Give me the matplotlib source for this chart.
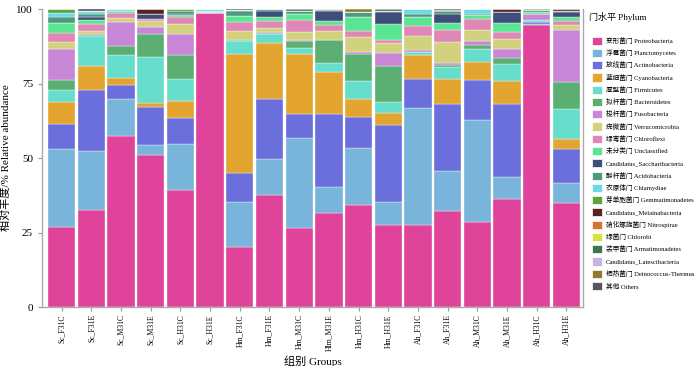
import matplotlib
matplotlib.use('Agg')
import matplotlib.pyplot as plt
from matplotlib.patches import Patch

plt.rcParams['font.family'] = ['Liberation Serif', 'Noto Sans CJK SC']

groups = ['Sc_F31C', 'Sc_F31E', 'Sc_M31C', 'Sc_M31E', 'Sc_H31C', 'Sc_H31E',
          'Hm_F31C', 'Hm_F31E', 'Hm_M31C', 'Hlm_M31E', 'Hm_H31C', 'Hm_H31E',
          'Ah_F31C', 'Ah_F31E', 'Ah_M31C', 'Ah_M31E', 'Ah_H31C', 'Ah_H31E']

# relative abundance (%) of each phylum, one value per group
proteobacteria = [27.0, 32.5, 57.5, 51.0, 39.3, 98.7, 20.0, 37.6, 26.6, 31.6, 34.2, 27.5, 27.5, 32.1, 28.5, 36.2, 94.6, 35.0]
planctomycetes = [26.0, 19.8, 12.3, 3.4, 15.6, 0.0, 15.3, 12.0, 30.2, 8.8, 19.3, 7.8, 39.4, 13.6, 34.3, 7.3, 0.4, 6.5]
actinobacteria = [8.4, 20.5, 4.7, 12.6, 8.4, 0.0, 9.6, 20.1, 7.9, 24.5, 10.4, 25.8, 9.8, 22.4, 13.4, 24.6, 0.8, 11.4]
cyanobacteria = [7.5, 8.2, 2.3, 1.6, 5.9, 0.0, 40.2, 18.8, 20.1, 14.1, 5.9, 4.1, 7.9, 8.4, 6.1, 7.7, 0.0, 3.4]
firmicutes = [4.1, 10.0, 7.8, 15.4, 7.3, 0.2, 4.2, 3.3, 2.0, 3.0, 6.0, 3.7, 1.1, 4.1, 4.3, 5.7, 0.5, 10.1]
bacteroidetes = [3.2, 0.2, 3.1, 7.6, 8.1, 0.0, 0.3, 0.3, 2.6, 7.6, 9.3, 12.0, 0.0, 0.5, 1.3, 2.2, 0.0, 9.0]
fusobacteria = [10.4, 0.5, 8.0, 2.3, 7.2, 0.0, 0.0, 0.2, 0.2, 0.0, 0.6, 4.4, 0.5, 0.8, 1.4, 2.9, 2.2, 17.5]
verrucomicrobia = [2.4, 1.0, 1.2, 2.2, 3.2, 0.0, 3.0, 1.5, 2.7, 3.0, 4.9, 3.4, 4.8, 7.1, 3.6, 3.3, 0.0, 1.7]
chloroflexi = [3.0, 2.4, 1.7, 0.5, 2.4, 0.0, 3.1, 2.3, 4.2, 2.0, 2.0, 0.9, 3.3, 3.9, 3.7, 2.5, 0.0, 1.4]
unclassified = [3.2, 1.1, 0.8, 0.0, 0.6, 0.5, 2.0, 1.3, 2.0, 1.3, 4.8, 5.4, 3.1, 2.5, 1.4, 3.1, 0.6, 1.5]
saccharibacteria = [0.0, 1.1, 0.0, 1.9, 0.4, 0.0, 0.0, 2.0, 0.0, 3.4, 0.0, 3.9, 0.0, 3.0, 0.0, 3.4, 0.0, 1.4]
acidobacteria = [2.2, 1.1, 0.0, 0.0, 1.1, 0.0, 1.6, 0.5, 1.0, 0.5, 1.7, 0.6, 1.1, 0.9, 0.5, 0.0, 0.5, 0.5]
chlamydiae = [1.4, 1.1, 0.5, 0.0, 0.0, 0.6, 0.5, 0.0, 0.0, 0.0, 0.0, 0.0, 1.4, 0.0, 1.4, 0.0, 0.0, 0.0]
gemmatimonadetes = [1.1, 0.0, 0.0, 0.0, 0.5, 0.0, 0.0, 0.0, 0.0, 0.2, 0.0, 0.0, 0.0, 0.0, 0.0, 0.0, 0.0, 0.0]
melainabacteria = [0.0, 0.0, 0.0, 1.5, 0.0, 0.0, 0.0, 0.0, 0.0, 0.0, 0.0, 0.0, 0.0, 0.5, 0.0, 1.1, 0.0, 0.6]
nitrospirae = [0.0] * 18
chlorobi = [0.0] * 18
armatimonadetes = [0.0, 0.0, 0.0, 0.0, 0.0, 0.0, 0.0, 0.0, 0.5, 0.0, 0.0, 0.5, 0.0, 0.0, 0.0, 0.0, 0.3, 0.0]
latescibacteria = [0.0] * 18
deinococcus = [0.0, 0.0, 0.0, 0.0, 0.0, 0.0, 0.0, 0.0, 0.0, 0.0, 0.9, 0.0, 0.0, 0.0, 0.0, 0.0, 0.0, 0.0]
others = [0.1, 0.5, 0.1, 0.0, 0.0, 0.0, 0.2, 0.1, 0.0, 0.0, 0.0, 0.0, 0.1, 0.2, 0.1, 0.0, 0.1, 0.0]

phyla = [
    ('变形菌门 Proteobacteria', proteobacteria, '#E0439A'),
    ('浮霉菌门 Planctomycetes', planctomycetes, '#79B4DA'),
    ('放线菌门 Actinobacteria', actinobacteria, '#6B6FDC'),
    ('蓝细菌门 Cyanobacteria', cyanobacteria, '#E3A52F'),
    ('厚壁菌门 Firmicutes', firmicutes, '#67DDCB'),
    ('拟杆菌门 Bacteroidetes', bacteroidetes, '#5BAF72'),
    ('梭杆菌门 Fusobacteria', fusobacteria, '#C786D6'),
    ('疣微菌门 Verrucomicrobia', verrucomicrobia, '#D2D27E'),
    ('绿弯菌门 Chloroflexi', chloroflexi, '#DF87B5'),
    ('未分类门 Unclassified', unclassified, '#5BE592'),
    ('Candidatus_Saccharibacteria', saccharibacteria, '#3F4D7A'),
    ('酸杆菌门 Acidobacteria', acidobacteria, '#4E9A80'),
    ('衣原体门 Chlamydiae', chlamydiae, '#6FD8E6'),
    ('芽单胞菌门 Gemmatimonadetes', gemmatimonadetes, '#5BA33A'),
    ('Candidatus_Melainabacteria', melainabacteria, '#562420'),
    ('硝化螺旋菌门 Nitrospirae', nitrospirae, '#D97133'),
    ('绿菌门 Chlorobi', chlorobi, '#D6E23E'),
    ('装甲菌门 Armatimonadetes', armatimonadetes, '#3E7452'),
    ('Candidatus_Latescibacteria', latescibacteria, '#C9B3E3'),
    ('栖热菌门 Deinococcus-Thermus', deinococcus, '#8E7A2A'),
    ('其他 Others', others, '#5C535E'),
]

fig = plt.figure(figsize=(7, 3.66), dpi=100)
ax = fig.add_axes([0.06, 0.161, 0.773, 0.814])

x = list(range(len(groups)))
bottom = [0.0] * len(groups)
for name, vals, color in phyla:
    ax.bar(x, vals, width=0.92, bottom=bottom, color=color,
           edgecolor='white', linewidth=0.25)
    bottom = [b + v for b, v in zip(bottom, vals)]

ax.set_xlim(-0.66, 17.56)
ax.set_ylim(0, 100)
ax.set_yticks([0, 25, 50, 75, 100])
ax.set_xticks(x)
ax.set_xticklabels(groups, rotation=90, fontsize=5.5)
ax.tick_params(axis='y', labelsize=8, length=3, color='#999999')
ax.tick_params(axis='x', length=3, color='#999999', pad=2)
for s in ['left', 'bottom', 'right']:
    ax.spines[s].set_color('#aaaaaa')
    ax.spines[s].set_linewidth(1.0)
ax.spines['top'].set_visible(False)

ax.set_xlabel('组别 Groups', fontsize=8, labelpad=3)
ax.set_ylabel('相对丰度/% Relative abundance', fontsize=8)

fig.text(0.842, 0.953, '门水平 Phylum', fontsize=6.5, va='center', ha='left')

handles = [Patch(facecolor=c, edgecolor='white', linewidth=0.5) for _, _, c in phyla]
labels = [n for n, _, _ in phyla]
fig.legend(handles, labels, loc='upper left',
           bbox_to_anchor=(0.845, 0.9), frameon=False, fontsize=4.8,
           handlelength=1.6, handleheight=1.5,
           labelspacing=0.62, handletextpad=0.5, borderaxespad=0,
           borderpad=0)

plt.savefig('out.png', dpi=100)
plt.close()
